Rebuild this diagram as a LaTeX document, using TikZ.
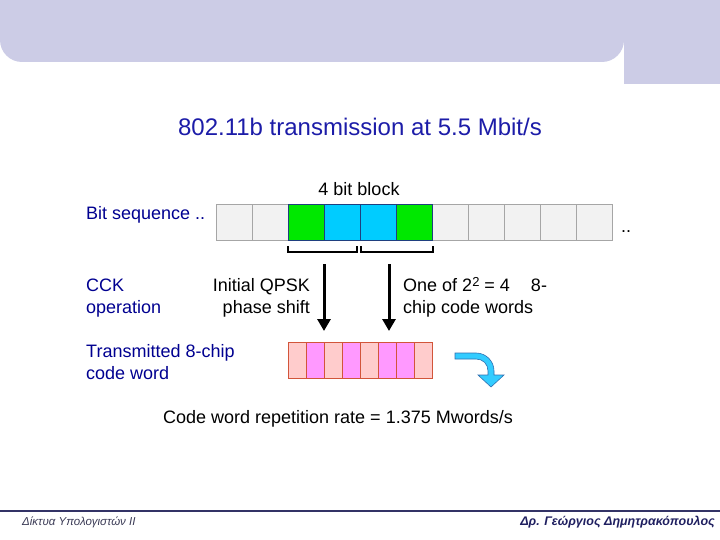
\documentclass[tikz,border=0pt]{standalone}
\usepackage{fontspec}
\setmainfont{Liberation Sans}
\usetikzlibrary{arrows.meta}

\begin{document}
\begin{tikzpicture}[x=1pt, y=-1pt,
    textNormal/.style={font=\fontsize{18}{22}\selectfont, inner sep=0pt},
    textBlue/.style={textNormal, text=labelBlue},
    bitCell/.style={draw=#1, line width=0.8pt, minimum width=36pt, minimum height=36pt, inner sep=0pt, anchor=north west},
    chipCell/.style={draw=chipBorder, line width=1pt, minimum width=18pt, minimum height=36pt, inner sep=0pt, anchor=north west},
    bracketLine/.style={line width=2.5pt},
    bigArrow/.style={line width=3pt, -{Triangle[width=13pt,length=12pt]}}]
    \definecolor{bandColour}{HTML}{CCCCE6}
    \definecolor{titleBlue}{HTML}{1C1CA8}
    \definecolor{labelBlue}{HTML}{000090}
    \definecolor{offFill}{HTML}{F2F2F2}
    \definecolor{offBorder}{HTML}{A6A6A6}
    \definecolor{bitEdge}{HTML}{1F3F7F}
    \definecolor{bitGreen}{HTML}{00E800}
    \definecolor{bitCyan}{HTML}{00CCFF}
    \definecolor{chipPink}{HTML}{FFCCCC}
    \definecolor{chipMagenta}{HTML}{FF99FF}
    \definecolor{chipBorder}{HTML}{D2553A}
    \definecolor{arrowCyan}{HTML}{33CCFF}
    \definecolor{arrowEdge}{HTML}{2F6FB0}
    \definecolor{footerLine}{HTML}{333366}
    \definecolor{footerGrey}{HTML}{3A3A55}
    \definecolor{footerBlue}{HTML}{1F1F60}

    \useasboundingbox (0,0) rectangle (720,540);

    % Header band
    \fill[bandColour, rounded corners=22pt] (0,-40) -- (0,62) -- (624,62) -- (624,-40) -- cycle;
    \fill[bandColour] (624,0) rectangle (720,84);

    % Title
    \node[anchor=base, font=\fontsize{24}{28}\selectfont, text=titleBlue] (title) at (360,136) {802.11b transmission at 5.5 Mbit/s};

    % Bit sequence
    \node[textNormal, anchor=base] (blockLabel) at (359,196) {4 bit block};
    \node[textBlue, anchor=base west] (bitLabel) at (86,219) {Bit sequence ..};
    \foreach \i in {0,1,6,7,8,9,10}
        \node[bitCell=offBorder, fill=offFill] (bit\i) at (216+36*\i,204) {};
    \foreach \i/\c in {2/bitGreen,3/bitCyan,4/bitCyan,5/bitGreen}
        \node[bitCell=bitEdge, fill=\c] (bit\i) at (216+36*\i,204) {};
    \node[textNormal, anchor=base west] (moreBits) at (621,233) {..};

    % Brackets under the 4 bit block
    \draw[bracketLine] (288,246) -- (288,252) -- (357,252) -- (357,246);
    \draw[bracketLine] (361,246) -- (361,252) -- (433,252) -- (433,246);

    % CCK operation (base = last line)
    \node[textBlue, anchor=base west, align=left] (cckLabel) at (86,313) {CCK\\operation};
    \node[textNormal, anchor=base east, align=right] (qpskLabel) at (310,313) {Initial QPSK\\phase shift};
    \node[textNormal, anchor=base west, align=left] (codeLabel) at (403,313) {One of 2{\fontsize{13}{13}\selectfont\raisebox{5pt}{2}} = 4\hspace{21pt}8-\\chip code words};

    \coordinate (qpskStart) at (324,264);
    \coordinate (qpskEnd) at (324,331);
    \coordinate (codeStart) at (389,264);
    \coordinate (codeEnd) at (389,331);
    \draw[bigArrow] (qpskStart) -- (qpskEnd);
    \draw[bigArrow] (codeStart) -- (codeEnd);

    % Transmitted code word
    \node[textBlue, anchor=base west, align=left] (txLabel) at (86,379) {Transmitted 8-chip\\code word};
    \foreach \c [count=\i] in {chipPink,chipMagenta,chipPink,chipMagenta,chipPink,chipMagenta,chipMagenta,chipPink}
        \node[chipCell, fill=\c] (chip\i) at (270+18*\i,342) {};

    % Repeat arrow
    \filldraw[fill=arrowCyan, draw=arrowEdge, line width=0.6pt]
        (455,353) -- (476,353) .. controls (486,353) and (494,361) .. (494,371)
        -- (494,375) -- (504,375) -- (491,387) -- (478,375) -- (488,375) -- (488,371)
        .. controls (488,364) and (483,359) .. (476,359) -- (455,359) -- cycle;

    \node[textNormal, anchor=base] (rateLabel) at (338,423) {Code word repetition rate = 1.375 Mwords/s};

    % Footer
    \draw[footerLine, line width=1.2pt] (0,511) -- (720,511);
    \node[anchor=base west, inner sep=0pt, font=\fontsize{11.5}{13}\selectfont\itshape, text=footerGrey] (footLeft) at (22,525) {Δίκτυα Υπολογιστών ΙΙ};
    \node[anchor=base east, inner sep=0pt, font=\fontsize{12.5}{15}\selectfont\bfseries\itshape, text=footerBlue] (footRight) at (715,525) {Δρ. Γεώργιος Δημητρακόπουλος};

\end{tikzpicture}
\end{document}
